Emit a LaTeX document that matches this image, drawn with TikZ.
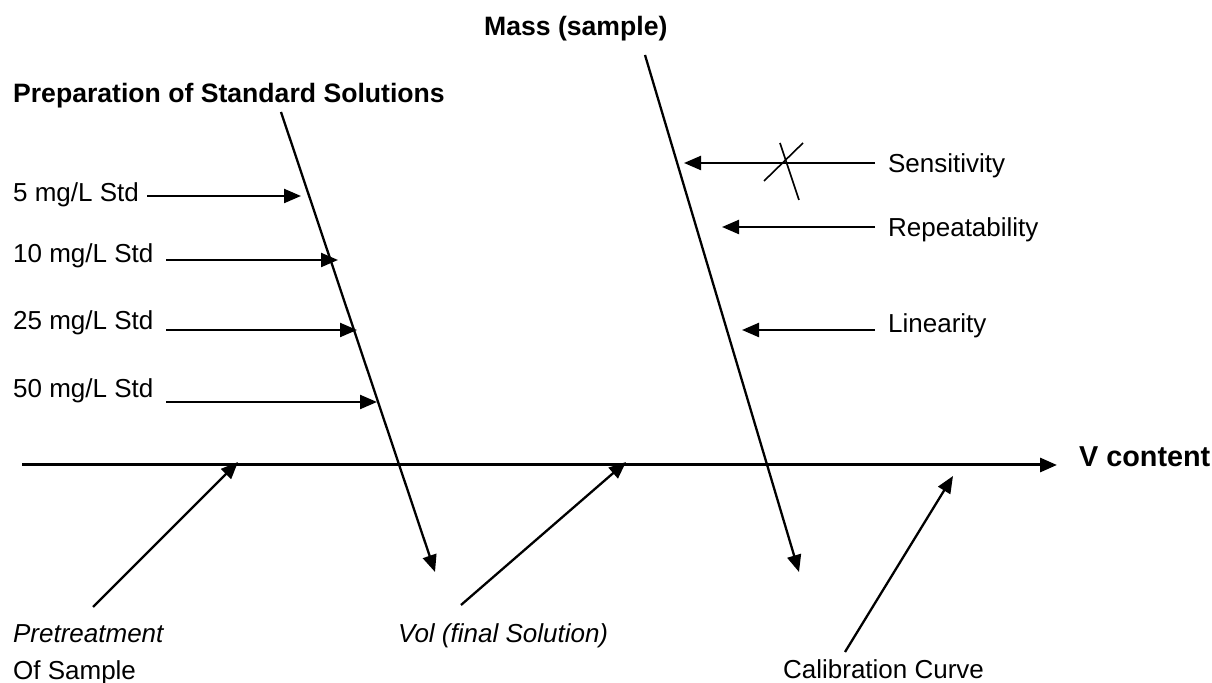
\documentclass[tikz,border=0pt]{standalone}
\usepackage{fontspec}
\setmainfont{Liberation Sans}
\usetikzlibrary{arrows.meta}

\begin{document}
\begin{tikzpicture}[->,>={Triangle[length=8.5pt,width=7pt]},line width=1.15pt,x=0.5pt,y=-0.5pt]
    \tikzstyle{lbl}=[inner sep=0pt,anchor=base west,font=\fontsize{13}{15}\selectfont]
    \tikzstyle{ilbl}=[style=lbl,font=\fontsize{13}{15}\selectfont\itshape]
    \tikzstyle{head}=[style=lbl,font=\fontsize{13.3}{15}\selectfont\bfseries]
    \tikzstyle{effect}=[style=lbl,font=\fontsize{14.4}{17}\selectfont\bfseries]
    \tikzstyle{spine}=[line width=1.5pt]
    \tikzstyle{tick}=[-,line width=0.8pt]

    \useasboundingbox (0,0) rectangle (1212,683);

    % labels
    \node[head]   (prep) at (12,103)   {Preparation of Standard Solutions};
    \node[head]   (mass) at (483,36)   {Mass (sample)};
    \node[effect] (vcon) at (1078,467) {V content};
    \node[lbl]  (s5)   at (12,202)  {5 mg/L Std};
    \node[lbl]  (s10)  at (12,263)  {10 mg/L Std};
    \node[lbl]  (s25)  at (12,330)  {25 mg/L Std};
    \node[lbl]  (s50)  at (12,398)  {50 mg/L Std};
    \node[lbl]  (sens) at (887,173) {Sensitivity};
    \node[lbl]  (rep)  at (887,237) {Repeatability};
    \node[lbl]  (lin)  at (887,333) {Linearity};
    \node[ilbl] (pre)  at (12,643)  {Pretreatment};
    \node[lbl]  (ofs)  at (12,680)  {Of Sample};
    \node[ilbl] (vol)  at (397,643) {Vol (final Solution)};
    \node[lbl]  (cal)  at (782,679) {Calibration Curve};

    % bone ends
    \coordinate (sp0) at (22,465);   \coordinate (sp1) at (1057,465);
    \coordinate (pb0) at (281,112);  \coordinate (pb1) at (435,572);
    \coordinate (mb0) at (645,55);   \coordinate (mb1) at (799,572);
    \coordinate (s5a)  at (147,196); \coordinate (s5b)  at (301,196);
    \coordinate (s10a) at (166,260); \coordinate (s10b) at (338,260);
    \coordinate (s25a) at (166,330); \coordinate (s25b) at (357,330);
    \coordinate (s50a) at (166,402); \coordinate (s50b) at (377,402);
    \coordinate (sensa) at (875,163); \coordinate (sensb) at (684,163);
    \coordinate (repa)  at (875,227); \coordinate (repb)  at (722,227);
    \coordinate (lina)  at (875,330); \coordinate (linb)  at (742,330);
    \coordinate (prea) at (93,607);  \coordinate (preb) at (238,462);
    \coordinate (vola) at (461,605); \coordinate (volb) at (626,462);
    \coordinate (cala) at (845,652); \coordinate (calb) at (953,476);
    \coordinate (x1) at (764,181);   \coordinate (x2) at (803,143);
    \coordinate (x3) at (780,143);   \coordinate (x4) at (799,200);

    \path
     (sp0) edge[spine] (sp1)
     (pb0) edge[] (pb1)
     (mb0) edge[] (mb1)
     (s5a) edge[] (s5b)
     (s10a) edge[] (s10b)
     (s25a) edge[] (s25b)
     (s50a) edge[] (s50b)
     (sensa) edge[] (sensb)
     (repa) edge[] (repb)
     (lina) edge[] (linb)
     (prea) edge[] (preb)
     (vola) edge[] (volb)
     (cala) edge[] (calb)
     (x1) edge[tick] (x2)
     (x3) edge[tick] (x4)
     ;
\end{tikzpicture}
\end{document}
